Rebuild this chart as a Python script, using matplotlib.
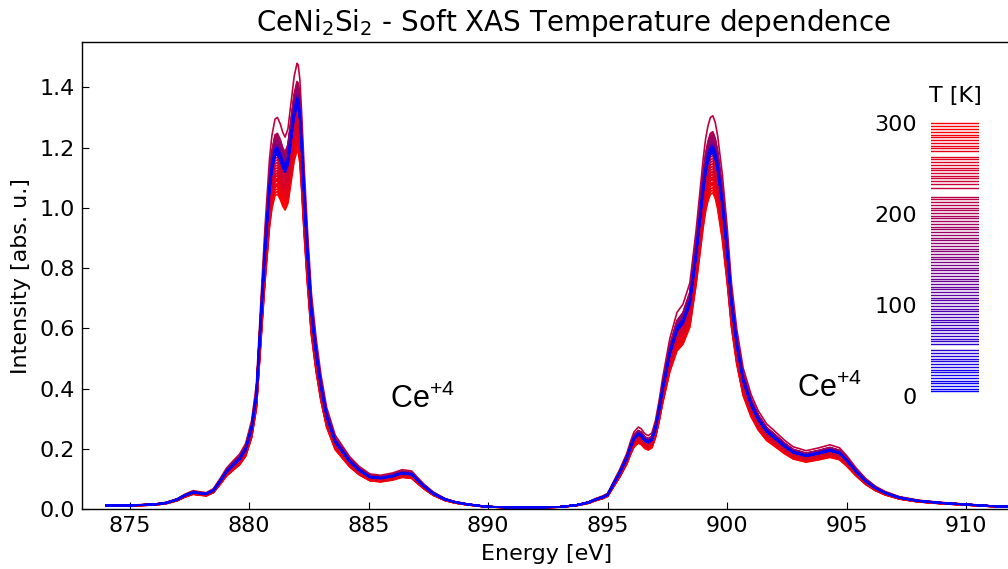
import numpy as np
import matplotlib
matplotlib.use("Agg")
import matplotlib.pyplot as plt

# energy grid [eV] and the lowest temperature spectrum (5 K)
energy = [874.0, 875.0, 876.0, 876.5, 877.0, 877.3, 877.65, 877.9, 878.2, 878.5,
          878.8, 879.05, 879.3, 879.6, 879.85, 880.1, 880.3, 880.53, 880.66, 880.85,
          880.95, 881.08, 881.18, 881.3, 881.4, 881.5, 881.62, 881.75, 881.88, 882.0,
          882.05, 882.12, 882.2, 882.3, 882.43, 882.6, 882.8,
          883.0, 883.24, 883.6, 884.2, 884.6, 885.05, 885.5, 886.0, 886.4, 886.8,
          887.0, 887.3, 887.7, 888.2, 888.6, 889.1, 889.9, 891.0, 892.0, 893.0,
          893.7, 894.2, 894.5, 894.8, 895.0, 895.22, 895.5, 895.8, 895.95, 896.1,
          896.28, 896.4, 896.55, 896.7, 896.85, 897.0, 897.15, 897.3, 897.6, 897.9,
          898.15, 898.44, 898.7, 898.85, 899.0, 899.1, 899.2, 899.3, 899.4, 899.5,
          899.6, 899.7, 899.8, 899.9, 900.0, 900.18, 900.4, 900.67, 901.0, 901.3,
          901.65, 902.0, 902.4, 902.76, 903.3, 903.8, 904.3, 904.7, 905.0, 905.4,
          905.8, 906.2, 906.6, 907.2, 908.0, 909.0, 910.0, 911.0, 912.0]
intensity_5K = [0.012, 0.012, 0.015, 0.02, 0.032, 0.045, 0.056, 0.053, 0.05, 0.062,
                0.095, 0.125, 0.145, 0.168, 0.2, 0.27, 0.38, 0.69, 0.86, 1.07,
                1.14, 1.19, 1.195, 1.175, 1.15, 1.135, 1.16, 1.24, 1.32, 1.36,
                1.355, 1.31, 1.2, 1.04, 0.86, 0.66, 0.52,
                0.41, 0.31, 0.225, 0.16, 0.13, 0.107, 0.103, 0.11, 0.12, 0.116,
                0.1, 0.077, 0.052, 0.032, 0.023, 0.016, 0.008, 0.005, 0.005, 0.007,
                0.013, 0.022, 0.032, 0.04, 0.048, 0.08, 0.12, 0.17, 0.205, 0.235,
                0.25, 0.245, 0.23, 0.224, 0.232, 0.27, 0.33, 0.4, 0.52, 0.6,
                0.625, 0.69, 0.85, 0.96, 1.07, 1.13, 1.17, 1.195, 1.2, 1.18,
                1.14, 1.08, 1.02, 0.94, 0.86, 0.69, 0.55, 0.43, 0.35, 0.3,
                0.26, 0.237, 0.21, 0.19, 0.178, 0.186, 0.196, 0.187, 0.163, 0.125,
                0.093, 0.07, 0.054, 0.038, 0.027, 0.02, 0.015, 0.01, 0.007]

# measured temperatures [K]
temperatures = [5, 8, 11, 14, 17, 20, 23, 26, 29, 32, 35, 38, 41, 44, 47, 50,
                57, 60, 63, 66, 69, 72, 75, 78, 81, 84, 87, 90, 93, 96, 99, 102,
                105, 108, 111, 114, 117, 120,
                123, 126, 129, 132, 135, 138, 141, 144, 147, 150, 153, 156, 159, 162, 165,
                168, 171, 174, 177, 180, 183, 186, 189, 192, 195, 198, 201, 204, 207,
                210, 213, 216, 219,
                228,
                233, 236, 239, 242, 245, 248, 251, 254, 257, 260, 263,
                269, 272, 275, 278, 281, 284, 287, 290, 293, 297, 300]

# height of the 882 eV peak for each temperature
peak_882 = [1.36, 1.35, 1.365, 1.355, 1.34, 1.36, 1.35, 1.345, 1.355, 1.36, 1.35, 1.34,
            1.355, 1.345, 1.35, 1.36,
            1.35, 1.36, 1.345, 1.355, 1.35, 1.36, 1.365, 1.35, 1.355, 1.36, 1.345,
            1.355, 1.365, 1.35, 1.36, 1.355, 1.365, 1.35, 1.36, 1.355, 1.37, 1.36,
            1.36, 1.355, 1.37, 1.36, 1.365, 1.375, 1.36, 1.37, 1.365, 1.375, 1.37,
            1.38, 1.365, 1.375, 1.38,
            1.385, 1.375, 1.39, 1.38, 1.395, 1.385, 1.40, 1.39, 1.405, 1.395, 1.41,
            1.40, 1.415, 1.39, 1.42, 1.405, 1.38, 1.41,
            1.48,
            1.36, 1.33, 1.35, 1.31, 1.34, 1.29, 1.32, 1.28, 1.30, 1.27, 1.26,
            1.27, 1.25, 1.26, 1.24, 1.23, 1.245, 1.22, 1.21, 1.225, 1.20, 1.19]

energy = np.array(energy)
base = np.array(intensity_5K)
base_peak = base.max()
t_max = max(temperatures)


def t_color(t):
    return (t / t_max, 0.0, 1.0 - t / t_max)


fig = plt.figure(figsize=(10.08, 5.69), dpi=100)
# the right edge of the axes sits just past the figure border
ax = fig.add_axes([0.0813, 0.1054, 0.921, 0.8203])

# high temperatures first, so the blue (cold) curves end up on top
for t, p in sorted(zip(temperatures, peak_882), reverse=True):
    ax.plot(energy, base * p / base_peak, color=t_color(t), lw=1.2)

ax.set_xlim(873.0, 911.85)
ax.set_ylim(0, 1.55)
ax.set_xticks([875, 880, 885, 890, 895, 900, 905, 910])
ax.set_yticks([0.0, 0.2, 0.4, 0.6, 0.8, 1.0, 1.2, 1.4])
ax.tick_params(direction="in", length=5, labelsize=16, pad=5)
ax.set_xlabel("Energy [eV]", fontsize=16, labelpad=6)
ax.set_ylabel("Intensity [abs. u.]", fontsize=16, labelpad=6)
for s in ax.spines.values():
    s.set_linewidth(1.0)

ax.text(885.89, 0.336, r"Ce$^{\mathregular{+4}}$", fontsize=22,
        family="Liberation Sans", ha="left", va="baseline")
ax.text(902.93, 0.371, r"Ce$^{\mathregular{+4}}$", fontsize=22,
        family="Liberation Sans", ha="left", va="baseline")

fig.text(574 / 1008, 1 - 31 / 569, r"CeNi$_2$Si$_2$ - Soft XAS Temperature dependence",
         fontsize=20, ha="center", va="baseline")

# temperature legend as a strip of coloured lines
leg = fig.add_axes([0.9236, 0.2882, 0.0476, 0.5185])
for t in temperatures:
    leg.axhline(t, color=t_color(t), lw=1.0)
leg.set_xlim(0, 1)
leg.set_ylim(-9.9, 314.2)
leg.set_xticks([])
leg.set_yticks([0, 100, 200, 300])
leg.tick_params(length=0, labelsize=16, pad=10)
for s in leg.spines.values():
    s.set_visible(False)
leg.set_title("T [K]", fontsize=16, pad=6)

fig.savefig("out.png", dpi=100)
